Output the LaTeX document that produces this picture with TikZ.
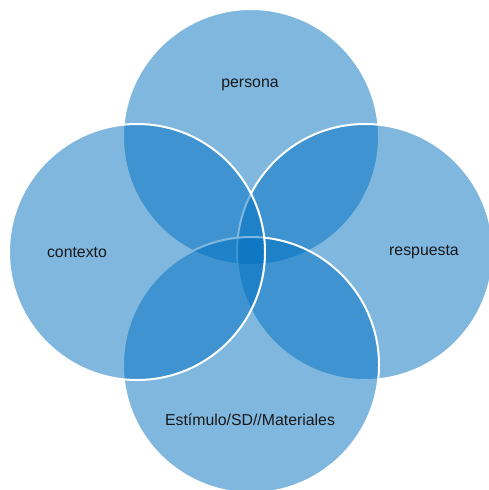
\documentclass[tikz,border=0pt]{standalone}
\usepackage{fontspec}
\setmainfont{Liberation Sans}
\definecolor{vennblue}{HTML}{0070C0}
\tikzset{
    venn/.style = {fill=vennblue, fill opacity=0.5, draw=white, line width=2bp},
    vennlabel/.style = {font=\fontsize{15.9}{19}\selectfont, text=black!90, inner sep=0pt}
}
\begin{document}
\begin{tikzpicture}[x=1bp, y=-1bp]
    \useasboundingbox (0,0) rectangle (489,490);
    \coordinate (persona) at (251,137);
    \coordinate (respuesta) at (365,252);
    \coordinate (estimulo) at (251,365);
    \coordinate (contexto) at (137,252);
    % top, right, bottom, left
    \draw[venn] (persona) circle[radius=128bp];
    \draw[venn] (respuesta) circle[radius=128bp];
    \draw[venn] (estimulo) circle[radius=128bp];
    \draw[venn] (contexto) circle[radius=128bp];
    \node[vennlabel] (lpersona) at (250,85) {persona};
    \node[vennlabel] (lrespuesta) at (424,252) {respuesta};
    \node[vennlabel] (lestimulo) at (250,420) {Estímulo/SD//Materiales};
    \node[vennlabel] (lcontexto) at (77,252) {contexto};
\end{tikzpicture}
\end{document}
